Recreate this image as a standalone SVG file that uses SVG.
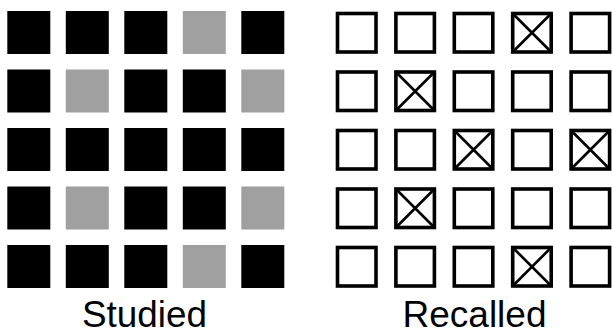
<svg xmlns="http://www.w3.org/2000/svg" width="612" height="334" viewBox="0 0 612 334">
<style>
.b{fill:#000}
.g{fill:#a0a0a0}
.o{fill:#fff;stroke:#000;stroke-width:3.6}
.x{stroke:#000;stroke-width:2.6}
.t{font-family:"Liberation Sans",Arial,sans-serif;font-size:36px;fill:#000;text-anchor:middle}
</style>
<rect width="612" height="334" fill="#fff"/>
<g id="studied">
<g id="s-r1">
<rect class="b" x="7.3" y="11" width="43" height="43"/>
<rect class="b" x="65.8" y="11" width="43" height="43"/>
<rect class="b" x="124.3" y="11" width="43" height="43"/>
<rect class="g" x="182.8" y="11" width="43" height="43"/>
<rect class="b" x="241.3" y="11" width="43" height="43"/>
</g>
<g id="s-r2">
<rect class="b" x="7.3" y="69.5" width="43" height="43"/>
<rect class="g" x="65.8" y="69.5" width="43" height="43"/>
<rect class="b" x="124.3" y="69.5" width="43" height="43"/>
<rect class="b" x="182.8" y="69.5" width="43" height="43"/>
<rect class="g" x="241.3" y="69.5" width="43" height="43"/>
</g>
<g id="s-r3">
<rect class="b" x="7.3" y="128" width="43" height="43"/>
<rect class="b" x="65.8" y="128" width="43" height="43"/>
<rect class="b" x="124.3" y="128" width="43" height="43"/>
<rect class="b" x="182.8" y="128" width="43" height="43"/>
<rect class="b" x="241.3" y="128" width="43" height="43"/>
</g>
<g id="s-r4">
<rect class="b" x="7.3" y="186.5" width="43" height="43"/>
<rect class="g" x="65.8" y="186.5" width="43" height="43"/>
<rect class="b" x="124.3" y="186.5" width="43" height="43"/>
<rect class="b" x="182.8" y="186.5" width="43" height="43"/>
<rect class="g" x="241.3" y="186.5" width="43" height="43"/>
</g>
<g id="s-r5">
<rect class="b" x="7.3" y="245" width="43" height="43"/>
<rect class="b" x="65.8" y="245" width="43" height="43"/>
<rect class="b" x="124.3" y="245" width="43" height="43"/>
<rect class="g" x="182.8" y="245" width="43" height="43"/>
<rect class="b" x="241.3" y="245" width="43" height="43"/>
</g>
<text class="t" x="144.5" y="326.5" textLength="125" lengthAdjust="spacingAndGlyphs">Studied</text>
</g>
<g id="recalled">
<g id="r-r1">
<rect class="o" x="337.5" y="13.5" width="38.5" height="38.5"/>
<rect class="o" x="395.9" y="13.5" width="38.5" height="38.5"/>
<rect class="o" x="454.3" y="13.5" width="38.5" height="38.5"/>
<rect class="o" x="512.7" y="13.5" width="38.5" height="38.5"/>
<path class="x" d="M512.7 13.5L551.2 52M551.2 13.5L512.7 52"/>
<rect class="o" x="571.1" y="13.5" width="38.5" height="38.5"/>
</g>
<g id="r-r2">
<rect class="o" x="337.5" y="72" width="38.5" height="38.5"/>
<rect class="o" x="395.9" y="72" width="38.5" height="38.5"/>
<path class="x" d="M395.9 72L434.4 110.5M434.4 72L395.9 110.5"/>
<rect class="o" x="454.3" y="72" width="38.5" height="38.5"/>
<rect class="o" x="512.7" y="72" width="38.5" height="38.5"/>
<rect class="o" x="571.1" y="72" width="38.5" height="38.5"/>
</g>
<g id="r-r3">
<rect class="o" x="337.5" y="130.5" width="38.5" height="38.5"/>
<rect class="o" x="395.9" y="130.5" width="38.5" height="38.5"/>
<rect class="o" x="454.3" y="130.5" width="38.5" height="38.5"/>
<path class="x" d="M454.3 130.5L492.8 169M492.8 130.5L454.3 169"/>
<rect class="o" x="512.7" y="130.5" width="38.5" height="38.5"/>
<rect class="o" x="571.1" y="130.5" width="38.5" height="38.5"/>
<path class="x" d="M571.1 130.5L609.6 169M609.6 130.5L571.1 169"/>
</g>
<g id="r-r4">
<rect class="o" x="337.5" y="189" width="38.5" height="38.5"/>
<rect class="o" x="395.9" y="189" width="38.5" height="38.5"/>
<path class="x" d="M395.9 189L434.4 227.5M434.4 189L395.9 227.5"/>
<rect class="o" x="454.3" y="189" width="38.5" height="38.5"/>
<rect class="o" x="512.7" y="189" width="38.5" height="38.5"/>
<rect class="o" x="571.1" y="189" width="38.5" height="38.5"/>
</g>
<g id="r-r5">
<rect class="o" x="337.5" y="247.5" width="38.5" height="38.5"/>
<rect class="o" x="395.9" y="247.5" width="38.5" height="38.5"/>
<rect class="o" x="454.3" y="247.5" width="38.5" height="38.5"/>
<rect class="o" x="512.7" y="247.5" width="38.5" height="38.5"/>
<path class="x" d="M512.7 247.5L551.2 286M551.2 247.5L512.7 286"/>
<rect class="o" x="571.1" y="247.5" width="38.5" height="38.5"/>
</g>
<text class="t" x="474.5" y="326.5" textLength="144" lengthAdjust="spacingAndGlyphs">Recalled</text>
</g>
<g id="connectors"/>
</svg>
